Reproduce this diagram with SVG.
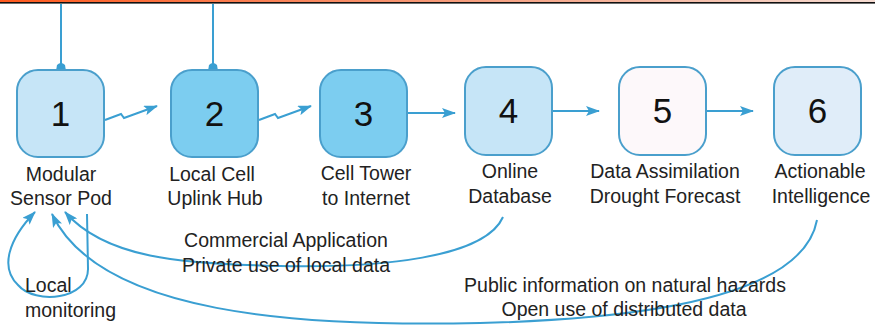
<svg xmlns="http://www.w3.org/2000/svg" width="875" height="325" viewBox="0 0 875 325">
<defs>
<linearGradient id="topband" x1="0" y1="0" x2="1" y2="0">
<stop offset="0" stop-color="#ff5a1e"/>
<stop offset="0.5" stop-color="#f79a78"/>
<stop offset="1" stop-color="#f6dcd2"/>
</linearGradient>
<marker id="ah" viewBox="0 0 14 10" refX="13" refY="5" markerUnits="userSpaceOnUse" markerWidth="14" markerHeight="10" orient="auto">
<path d="M0,0 L14,5 L0,10 L3,5 z" fill="#3a9fd2"/>
</marker>
<style>
.box{stroke:#4a9fcc;stroke-width:2}
.lt{fill:#c6e5f7}
.md{fill:#7ccdf0}
.wh{fill:#fdf8fa}
.pl{fill:#e0edf9}
.num{font-family:"Liberation Sans",Arial,sans-serif;font-size:35px;fill:#111;text-anchor:middle}
.lbl{font-family:"Liberation Sans",Arial,sans-serif;font-size:19.5px;fill:#222;text-anchor:middle}
.lft{text-anchor:start}
.ln{fill:none;stroke:#3a9fd2;stroke-width:2}
.cap{fill:#3a9fd2}
</style>
</defs>
<rect x="0" y="0" width="875" height="2" fill="url(#topband)"/>
<rect x="0" y="2" width="875" height="1.6" fill="#111"/>

<g id="connectors">
<path class="ln" d="M61,4 V66"/>
<path class="cap" d="M56,71 L57,65 Q61,61 65,65 L66,71 z"/>
<path class="ln" d="M213,4 V66"/>
<path class="cap" d="M208,71 L209,65 Q213,61 217,65 L218,71 z"/>
<path class="ln" marker-end="url(#ah)" d="M105,120 L121,114 L124,118 L157,106"/>
<path class="ln" marker-end="url(#ah)" d="M259,120 L275,114 L278,118 L311,106"/>
<path class="ln" marker-end="url(#ah)" d="M408,113 L455,113"/>
<path class="ln" marker-end="url(#ah)" d="M553,111 L599,111"/>
<path class="ln" marker-end="url(#ah)" d="M707,111 L753,111"/>
<path class="ln" marker-end="url(#ah)" d="M503,217 C485,258 380,268 280,266 C180,264 105,258 65,212"/>
<path class="ln" marker-end="url(#ah)" d="M817,220 C805,285 690,318 480,323 C300,327 100,315 52,214"/>
<path class="ln" marker-end="url(#ah)" d="M87,214 L88,268 C89,300 35,305 18,285 C0,268 8,240 35,212"/>
</g>

<g id="node1">
<rect class="box lt" x="17" y="70" width="87" height="87" rx="21"/>
<text class="num" x="60.5" y="126">1</text>
<text class="lbl" x="61" y="181">Modular</text>
<text class="lbl" x="61" y="205">Sensor Pod</text>
</g>
<g id="node2">
<rect class="box md" x="171" y="70" width="87" height="87" rx="21"/>
<text class="num" x="214.5" y="126">2</text>
<text class="lbl" x="212" y="181">Local Cell</text>
<text class="lbl" x="215" y="205">Uplink Hub</text>
</g>
<g id="node3">
<rect class="box md" x="320" y="70" width="87" height="87" rx="21"/>
<text class="num" x="363.5" y="126">3</text>
<text class="lbl" x="366" y="180">Cell Tower</text>
<text class="lbl" x="366" y="205">to Internet</text>
</g>
<g id="node4">
<rect class="box lt" x="465" y="67" width="87" height="88" rx="21"/>
<text class="num" x="508.5" y="123">4</text>
<text class="lbl" x="510" y="178">Online</text>
<text class="lbl" x="510" y="203">Database</text>
</g>
<g id="node5">
<rect class="box wh" x="619" y="67" width="87" height="88" rx="21"/>
<text class="num" x="662.5" y="123">5</text>
<text class="lbl" x="665" y="178">Data Assimilation</text>
<text class="lbl" x="665" y="203">Drought Forecast</text>
</g>
<g id="node6">
<rect class="box pl" x="774" y="67" width="87" height="88" rx="21"/>
<text class="num" x="817.5" y="123">6</text>
<text class="lbl" x="820" y="178">Actionable</text>
<text class="lbl" x="821" y="203">Intelligence</text>
</g>

<g id="notes">
<text class="lbl" x="286" y="247">Commercial Application</text>
<text class="lbl" x="286" y="272">Private use of local data</text>
<text class="lbl" x="625" y="292">Public information on natural hazards</text>
<text class="lbl" x="624" y="316">Open use of distributed data</text>
<text class="lbl lft" x="25" y="292">Local</text>
<text class="lbl lft" x="25" y="317">monitoring</text>
</g>
</svg>
